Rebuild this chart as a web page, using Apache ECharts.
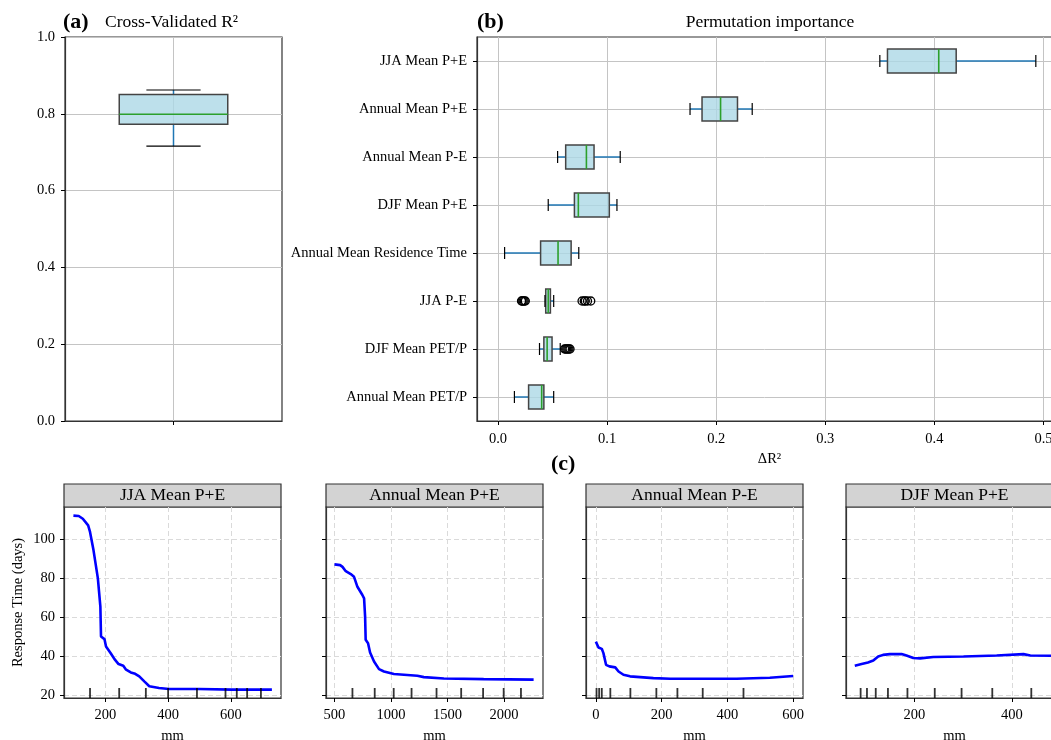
<!DOCTYPE html>
<html>
<head>
<meta charset="utf-8">
<script src="https://cdn.jsdelivr.net/npm/echarts@6/dist/echarts.min.js"></script>
<style>
html, body { margin: 0; padding: 0; background: #fff; }
#chart { width: 1051px; height: 740px; }
</style>
</head>
<body>
<div id="chart"></div>
<script>
// (a) cross-validated R2 : [min, q1, median, q3, max]
const cvR2 = [0.716, 0.773, 0.799, 0.850, 0.862]

// (b) permutation importance, listed bottom -> top
const features = ['Annual Mean PET/P', 'DJF Mean PET/P', 'JJA P-E', 'Annual Mean Residence Time',
  'DJF Mean P+E', 'Annual Mean P-E', 'Annual Mean P+E', 'JJA Mean P+E']
const permBoxes = [
  [0.015, 0.028, 0.040, 0.042, 0.051],
  [0.038, 0.042, 0.045, 0.0495, 0.057],
  [0.043, 0.0437, 0.046, 0.048, 0.051],
  [0.006, 0.039, 0.055, 0.067, 0.074],
  [0.046, 0.070, 0.0736, 0.102, 0.109],
  [0.0546, 0.062, 0.081, 0.088, 0.112],
  [0.176, 0.187, 0.204, 0.2195, 0.233],
  [0.350, 0.357, 0.404, 0.420, 0.493]
]
const jjaPEOutliers = [0.0215, 0.022, 0.023, 0.024, 0.025, 0.077, 0.079, 0.080, 0.082, 0.085]
const djfPetOutliers = [0.061, 0.062, 0.063, 0.064, 0.065, 0.066]

// (c) partial dependence
const pdpTitles = ['JJA Mean P+E', 'Annual Mean P+E', 'Annual Mean P-E', 'DJF Mean P+E']
const jjaPE_x = [98, 115, 128, 145, 151, 162, 176, 184, 186, 197, 202, 218, 229, 242, 257, 266, 281, 295, 308, 324, 340, 371, 403, 498, 603, 731]
const jjaPE_y = [112.3, 112.1, 110.7, 107.3, 103.9, 94.6, 80.1, 65.6, 50.3, 49.0, 45.2, 41.5, 38.7, 36.2, 35.3, 33.3, 31.9, 31.2, 29.9, 27.3, 24.8, 23.9, 23.4, 23.4, 23.1, 23.1]
const annPE_x = [500, 550, 571, 600, 644, 673, 703, 747, 762, 771, 776, 797, 815, 850, 894, 938, 1026, 1233, 1291, 1468, 1820, 2262]
const annPE_y = [87.3, 86.9, 86.0, 83.8, 82.3, 80.9, 75.8, 71.6, 69.9, 60.5, 48.6, 46.9, 42.1, 37.5, 33.6, 32.4, 31.1, 30.2, 29.5, 28.8, 28.5, 28.2]
const annPmE_x = [0, 8, 18, 23, 31, 41, 59, 69, 84, 104, 175, 226, 428, 529, 600]
const annPmE_y = [47.7, 44.7, 44.0, 41.8, 35.8, 35.0, 34.5, 32.4, 30.7, 29.9, 29.0, 28.7, 28.7, 29.2, 30.1]
const djfPE_x = [78, 92, 105, 116, 126, 136, 150, 174, 184, 198, 212, 239, 301, 369, 424, 438, 485]
const djfPE_y = [35.3, 36.2, 37.0, 38.0, 40.1, 40.9, 41.3, 41.3, 40.6, 39.3, 39.1, 39.8, 40.1, 40.6, 41.3, 40.6, 40.4]
// deciles drawn as rug ticks
const jjaPE_dec = [151, 244, 329, 400, 492, 583, 619, 652, 696]
const annPE_dec = [659, 856, 1024, 1182, 1403, 1621, 1815, 1997, 2150]
const annPmE_dec = [2, 10, 18, 44, 105, 184, 248, 325, 449]
const djfPE_dec = [90, 103, 121, 146, 186, 242, 297, 360, 440]
const xTickLabels = [[200, 400, 600], [500, 1000, 1500, 2000], [0, 200, 400, 600], [200, 400]]
const yTickLabels = [20, 40, 60, 80, 100]

const pdpX = [jjaPE_x, annPE_x, annPmE_x, djfPE_x]
const pdpY = [jjaPE_y, annPE_y, annPmE_y, djfPE_y]
const pdpDec = [jjaPE_dec, annPE_dec, annPmE_dec, djfPE_dec]

// layout
const serif = '"Liberation Serif", "DejaVu Serif", serif'
const xRange = [[68, 760], [425, 2345], [-30, 630], [60, 505]]
const xSplit = [3, 4, 3, 2]
const yRange = [18.8, 116.7]
const subLeft = [64, 326, 586, 846]
const subW = 217, subTop = 507, subH = 191, stripH = 23

const frame = '#333'
const tick = { show: true, length: 4, lineStyle: { color: '#000', width: 1 } }
const line = { show: true, onZero: false, lineStyle: { color: frame, width: 1.2 } }
const label = { color: '#000', fontFamily: serif, fontSize: 14.5 }
const solidGrid = { show: true, lineStyle: { color: '#c4c4c4', width: 1 } }
const dashGrid = { show: true, lineStyle: { color: '#dadada', width: 1, type: [5, 3] } }

// box + whiskers + caps + median, through the axis scales
function renderBox(horizontal) {
  return function (params, api) {
    const pos = api.value(0)
    const pt = v => horizontal ? api.coord([v, pos]) : api.coord([pos, v])
    const unit = horizontal ? api.size([0, 1])[1] : api.size([1, 0])[0]
    const half = unit * 0.25, capHalf = unit * 0.125
    const lo = pt(api.value(1)), q1 = pt(api.value(2)), md = pt(api.value(3))
    const q3 = pt(api.value(4)), hi = pt(api.value(5))
    const seg = (p, h) => horizontal
      ? { x1: p[0], y1: p[1] - h, x2: p[0], y2: p[1] + h }
      : { x1: p[0] - h, y1: p[1], x2: p[0] + h, y2: p[1] }
    const rect = horizontal
      ? { x: q1[0], y: q1[1] - half, width: q3[0] - q1[0], height: half * 2 }
      : { x: q3[0] - half, y: q3[1], width: half * 2, height: q1[1] - q3[1] }
    const whisker = { stroke: '#1f77b4', lineWidth: 1.5 }
    const cap = { stroke: '#000', lineWidth: 1.2 }
    return {
      type: 'group',
      children: [
        { type: 'line', shape: { x1: lo[0], y1: lo[1], x2: q1[0], y2: q1[1] }, style: whisker },
        { type: 'line', shape: { x1: q3[0], y1: q3[1], x2: hi[0], y2: hi[1] }, style: whisker },
        { type: 'rect', shape: rect, style: { fill: 'rgba(173,216,230,0.8)', stroke: '#444', lineWidth: 1.5 } },
        { type: 'line', shape: seg(md, half), style: { stroke: '#2ca02c', lineWidth: 1.6 } },
        { type: 'line', shape: seg(lo, capHalf), style: cap },
        { type: 'line', shape: seg(hi, capHalf), style: cap }
      ]
    }
  }
}

const grids = [
  { left: 65, top: 37, width: 217, height: 384 },
  { left: 477, top: 37, width: 585, height: 384 }
]
subLeft.forEach(l => grids.push({ left: l, top: subTop, width: subW, height: subH }))
grids.forEach(g => Object.assign(g, { show: true, borderColor: frame, borderWidth: 1.2, backgroundColor: 'transparent', outerBoundsMode: 'none' }))

const xAxes = [
  {
    gridIndex: 0, type: 'value', min: 0.5, max: 1.5, interval: 0.5,
    axisLine: line, axisTick: Object.assign({ customValues: [1] }, tick),
    axisLabel: { show: false }, splitLine: solidGrid
  },
  {
    gridIndex: 1, type: 'value', min: -0.0193, max: 0.517, splitNumber: 5,
    axisLine: line, axisTick: Object.assign({ customValues: [0, 0.1, 0.2, 0.3, 0.4, 0.5] }, tick),
    axisLabel: Object.assign({ customValues: [0, 0.1, 0.2, 0.3, 0.4, 0.5], margin: 11, formatter: v => v.toFixed(1) }, label),
    splitLine: solidGrid,
    name: 'ΔR²', nameLocation: 'middle', nameGap: 25, nameTextStyle: { color: '#000', fontFamily: serif, fontSize: 14.5 }
  }
]
const yAxes = [
  {
    gridIndex: 0, type: 'value', min: 0, max: 1, interval: 0.2,
    axisLine: line, axisTick: tick,
    axisLabel: Object.assign({ margin: 10, formatter: v => v.toFixed(1) }, label),
    splitLine: solidGrid
  },
  {
    gridIndex: 1, type: 'value', min: 0.5, max: 8.5, splitNumber: 8,
    axisLine: line, axisTick: Object.assign({ customValues: [1, 2, 3, 4, 5, 6, 7, 8] }, tick),
    axisLabel: Object.assign({ customValues: [1, 2, 3, 4, 5, 6, 7, 8], margin: 10, formatter: v => features[Math.round(v) - 1] }, label),
    splitLine: solidGrid
  }
]
pdpTitles.forEach((t, k) => {
  xAxes.push({
    gridIndex: k + 2, type: 'value', min: xRange[k][0], max: xRange[k][1], splitNumber: xSplit[k],
    axisLine: line, axisTick: Object.assign({ customValues: xTickLabels[k] }, tick),
    axisLabel: Object.assign({ customValues: xTickLabels[k], margin: 10, formatter: v => String(v) }, label),
    splitLine: dashGrid,
    name: 'mm', nameLocation: 'middle', nameGap: 31, nameTextStyle: { color: '#000', fontFamily: serif, fontSize: 14.5 }
  })
  yAxes.push({
    gridIndex: k + 2, type: 'value', min: yRange[0], max: yRange[1], splitNumber: 5,
    axisLine: line, axisTick: Object.assign({ customValues: yTickLabels }, tick),
    axisLabel: Object.assign({ show: k === 0, customValues: yTickLabels, margin: 9 }, label),
    splitLine: dashGrid,
    name: k === 0 ? 'Response Time (days)' : '', nameLocation: 'middle', nameGap: 38,
    nameTextStyle: { color: '#000', fontFamily: serif, fontSize: 14.5 }
  })
})

const series = [
  {
    type: 'custom', xAxisIndex: 0, yAxisIndex: 0, renderItem: renderBox(false),
    encode: { x: 0, y: [1, 2, 3, 4, 5] }, data: [[1].concat(cvR2)], silent: true, z: 3
  },
  {
    type: 'custom', xAxisIndex: 1, yAxisIndex: 1, renderItem: renderBox(true),
    encode: { x: [1, 2, 3, 4, 5], y: 0 }, data: permBoxes.map((b, i) => [i + 1].concat(b)), silent: true, z: 3
  },
  {
    type: 'scatter', xAxisIndex: 1, yAxisIndex: 1, symbol: 'circle', symbolSize: 8,
    itemStyle: { color: 'transparent', borderColor: '#000', borderWidth: 1.3, opacity: 1 },
    data: jjaPEOutliers.map(v => [v, features.indexOf('JJA P-E') + 1])
      .concat(djfPetOutliers.map(v => [v, features.indexOf('DJF Mean PET/P') + 1])),
    silent: true, z: 4
  }
]
pdpTitles.forEach((t, k) => {
  series.push({
    type: 'line', xAxisIndex: k + 2, yAxisIndex: k + 2, showSymbol: false, silent: true,
    lineStyle: { color: '#0000ff', width: 2.6 }, z: 3,
    data: pdpX[k].map((x, i) => [x, pdpY[k][i]])
  })
  series.push({
    type: 'scatter', xAxisIndex: k + 2, yAxisIndex: k + 2, symbol: 'rect',
    symbolSize: [1.8, 10], symbolOffset: [0, -5], silent: true, z: 4,
    itemStyle: { color: '#000' },
    data: pdpDec[k].map(v => [v, yRange[0]])
  })
})

function txt(text, x, y, size, bold, align) {
  return {
    type: 'text', x: x, y: y, silent: true,
    style: {
      text: text, fill: '#000', fontFamily: serif, fontSize: size, fontWeight: bold ? 'bold' : 'normal',
      align: align || 'left', verticalAlign: 'middle', textAlign: align || 'left', textVerticalAlign: 'middle'
    }
  }
}
const graphics = [
  txt('(a)', 63, 22, 22, true),
  txt('Cross-Validated R²', 105, 22.5, 17.5, false),
  txt('(b)', 477, 22, 22, true),
  txt('Permutation importance', 770, 22.5, 17.5, false, 'center'),
  txt('(c)', 551, 464, 22, true)
]
pdpTitles.forEach((t, k) => {
  graphics.push({
    type: 'rect', silent: true,
    shape: { x: subLeft[k], y: subTop - stripH, width: subW, height: stripH },
    style: { fill: '#d3d3d3', stroke: frame, lineWidth: 1.2 }
  })
  graphics.push(txt(t, subLeft[k] + subW / 2, subTop - stripH / 2, 17.5, false, 'center'))
})

let myChart = echarts.init(document.querySelector('#chart'))
myChart.setOption({
  animation: false,
  grid: grids,
  xAxis: xAxes,
  yAxis: yAxes,
  series: series,
  graphic: graphics
})
</script>
</body>
</html>
